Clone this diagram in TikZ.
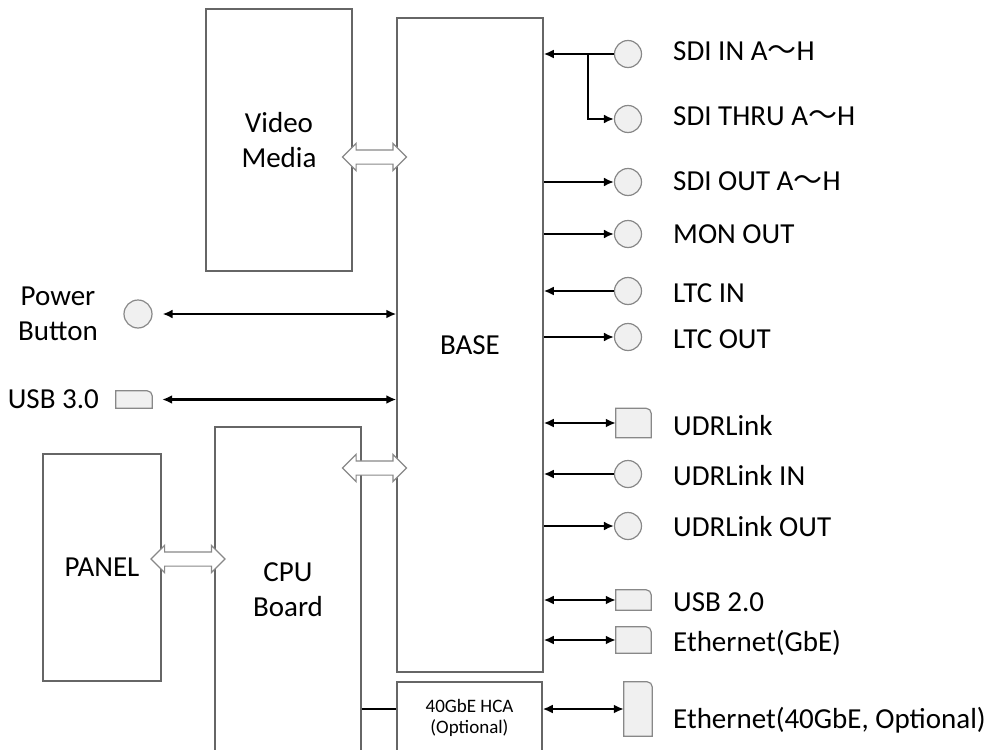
\documentclass[tikz,border=0pt]{standalone}
\usepackage{fontspec}
\setmainfont{Carlito}
\newfontfamily\cjk{Noto Sans CJK JP}
\usetikzlibrary{arrows.meta,shapes.arrows}
\definecolor{boxGray}{HTML}{666666}
\definecolor{portGray}{HTML}{888888}
\definecolor{portFill}{HTML}{F0F0F0}
\tikzset{
  block/.style={draw=boxGray, line width=1.5pt, inner sep=0pt, align=center},
  port/.style={circle, draw=portGray, fill=portFill, line width=1.2pt, minimum size=27pt, inner sep=0pt},
  jack/.style={rectangle, inner sep=0pt},
  sig/.style={line width=2.3pt, -{Latex[length=10pt,width=9pt]}},
  bisig/.style={line width=2.3pt, {Latex[length=10pt,width=9pt]}-{Latex[length=10pt,width=9pt]}},
  bus/.style={double arrow, draw=portGray, fill=white, line width=1.2pt, minimum height=64pt,
    inner xsep=0pt, inner ysep=6.5pt, double arrow head extend=6.5pt},
  lbl/.style={anchor=west, inner sep=0pt, text height=18.5pt, text depth=0pt}
}

\begin{document}
\begin{tikzpicture}[x=1pt, y=-1pt, font=\fontsize{29}{35}\selectfont]
\useasboundingbox (0,0) rectangle (987,749);
\clip (0,0) rectangle (987,749);


\node[block, minimum width=146pt, minimum height=262pt] (video) at (279,140) {Video\\Media};
\node[block, minimum width=146pt, minimum height=654pt] (base) at (470,345) {BASE};
\node[block, minimum width=146pt, minimum height=326pt] (cpu) at (288,590) {CPU\\Board};
\node[block, minimum width=118pt, minimum height=227pt] (panel) at (102,567.5) {PANEL};
\node[block, minimum width=145pt, minimum height=72pt, font=\fontsize{19}{21}\selectfont] (hca) at (469.5,718) {40GbE HCA\\(Optional)};


\node[bus] (vbus) at (374.5,157) {};
\node[bus] (cbus) at (374.5,468) {};
\node[bus, minimum height=74pt] (pbus) at (188,559) {};


\node[port, minimum size=28pt] (power) at (138,314) {};
\node[jack, minimum width=36pt, minimum height=17pt] (usbthree) at (134,399.5) {};

\node[port] (sdiin) at (628,54) {};
\node[port] (sdithru) at (628,119) {};
\node[port] (sdiout) at (628,182) {};
\node[port] (monout) at (628,234) {};
\node[port] (ltcin) at (628,291) {};
\node[port] (ltcout) at (628,337) {};
\node[jack, minimum width=35pt, minimum height=29pt] (udr) at (633.5,423) {};
\node[port] (udrin) at (628,474) {};
\node[port] (udrout) at (628,526) {};
\node[jack, minimum width=35pt, minimum height=20pt] (usbtwo) at (633.5,600) {};
\node[jack, minimum width=35pt, minimum height=26pt] (gbe) at (633.5,640) {};
\node[jack, minimum width=28pt, minimum height=54pt] (fortygbe) at (638,709) {};

% connector bodies, top right corner rounded
\foreach \j in {usbthree,udr,usbtwo,gbe,fortygbe}
  \filldraw[draw=portGray, fill=portFill, line width=1.2pt]
    (\j.south west) -- (\j.north west) -- ([xshift=-5pt]\j.north east)
    arc[start angle=90, end angle=0, radius=5pt] -- (\j.south east) -- cycle;


\draw[bisig, shorten <=10pt] (power) -- (base.west |- power);
\draw[bisig, shorten <=10pt] (usbthree) -- (base.west |- usbthree);

\draw[sig] (sdiin) -- (base.east |- sdiin);
\coordinate (sdisplit) at (588,54);
\draw[sig] (sdisplit) |- (sdithru);
\draw[sig] (base.east |- sdiout) -- (sdiout);
\draw[sig] (base.east |- monout) -- (monout);
\draw[sig] (ltcin) -- (base.east |- ltcin);
\draw[sig] (base.east |- ltcout) -- (ltcout);
\draw[bisig] (base.east |- udr) -- (udr);
\draw[sig] (udrin) -- (base.east |- udrin);
\draw[sig] (base.east |- udrout) -- (udrout);
\draw[bisig] (base.east |- usbtwo) -- (usbtwo);
\draw[bisig] (base.east |- gbe) -- (gbe);
\draw[bisig] (hca.east |- fortygbe) -- (fortygbe);
\draw[line width=2.3pt] (cpu.east |- fortygbe) -- (hca.west |- fortygbe);


\node[align=center] (powerL) at (58,314) {Power\\Button};
\node[lbl, anchor=east] (usbthreeL) at (99,399) {USB 3.0};

\node[lbl] (sdiinL) at (673,51) {SDI IN A{\cjk 〜}H};
\node[lbl] (sdithruL) at (673,116) {SDI THRU A{\cjk 〜}H};
\node[lbl] (sdioutL) at (673,181) {SDI OUT A{\cjk 〜}H};
\node[lbl] (monoutL) at (673,234) {MON OUT};
\node[lbl] (ltcinL) at (673,293) {LTC IN};
\node[lbl] (ltcoutL) at (673,339) {LTC OUT};
\node[lbl] (udrL) at (673,426) {UDRLink};
\node[lbl] (udrinL) at (673,476) {UDRLink IN};
\node[lbl] (udroutL) at (673,527) {UDRLink OUT};
\node[lbl] (usbtwoL) at (673,602) {USB 2.0};
\node[lbl] (gbeL) at (673,642) {Ethernet(GbE)};
\node[lbl] (fortygbeL) at (673,719) {Ethernet(40GbE, Optional)};
\end{tikzpicture}
\end{document}
